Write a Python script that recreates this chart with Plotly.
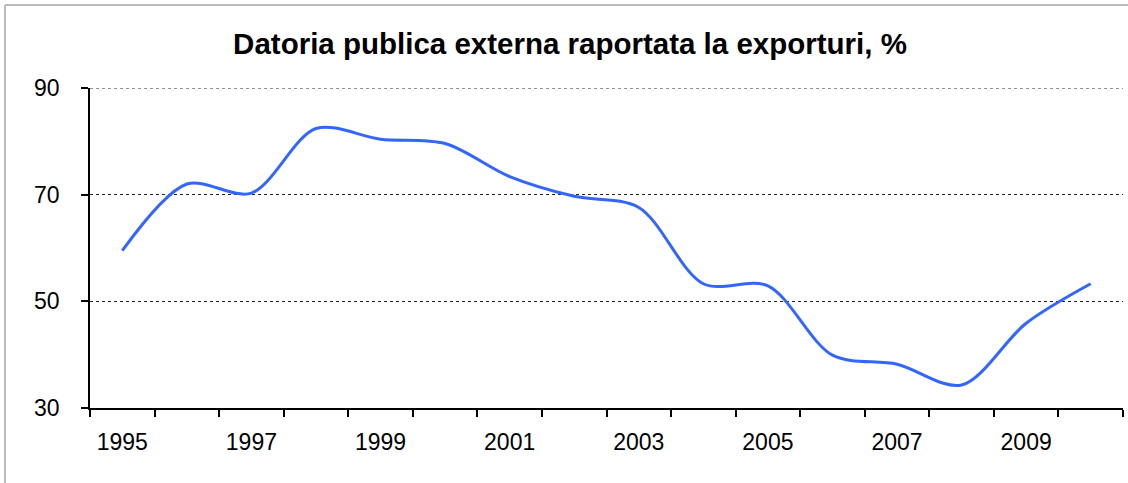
import plotly.graph_objects as go

years = [1995, 1996, 1997, 1998, 1999, 2000, 2001, 2002, 2003, 2004, 2005, 2006, 2007, 2008, 2009, 2010]
values = [59.5, 72.0, 70.3, 82.4, 80.4, 79.6, 73.4, 69.7, 67.6, 53.3, 52.9, 39.9, 38.2, 34.3, 45.9, 53.3]
label_years = [1995, 1997, 1999, 2001, 2003, 2005, 2007, 2009]
y_ticks = [30, 50, 70, 90]

W, H = 1128, 483
L, R, T, B = 90, 5, 88, 75
pw, ph = W - L - R, H - T - B

def px(x):
    return (x - L) / pw

def py(y):
    return (H - B - y) / ph

fig = go.Figure()
fig.add_trace(go.Scatter(
    x=years, y=values, mode="lines",
    line=dict(color="#3366FF", width=3, shape="spline", smoothing=0.9),
    hoverinfo="x+y", showlegend=False,
))

grid_dash = "3px,3px"

fig.update_layout(
    width=W, height=H,
    margin=dict(l=L, r=R, t=T, b=B),
    paper_bgcolor="white", plot_bgcolor="white",
    font=dict(family="Liberation Sans, Arial, sans-serif", color="black"),
    title=dict(text="<b>Datoria publica externa raportata la exporturi, %</b>",
               x=px(570), xref="paper", xanchor="center",
               y=1 - 44 / H, yanchor="middle",
               font=dict(size=29.5, color="black")),
    xaxis=dict(
        range=[1994.5, 2010.5], tickmode="array", tickvals=label_years,
        ticktext=[str(y) for y in label_years],
        ticks="", showgrid=False, zeroline=False,
        showline=True, linecolor="black", linewidth=1.5,
        tickfont=dict(size=23), ticklabelstandoff=13,
        minor=dict(tickmode="linear", tick0=1994.5, dtick=1, ticks="outside",
                   ticklen=7, tickcolor="black", tickwidth=1.5, showgrid=False),
        fixedrange=True,
    ),
    yaxis=dict(
        range=[30, 90], tickmode="array", tickvals=y_ticks,
        ticks="outside", ticklen=7, tickcolor="black", tickwidth=1.5,
        showgrid=True, gridcolor="#222222", gridwidth=1, griddash=grid_dash,
        zeroline=False, showline=True, linecolor="black", linewidth=1.5,
        tickfont=dict(size=23), ticklabelstandoff=17,
        fixedrange=True,
    ),
    shapes=[
        dict(type="line", xref="paper", yref="y",
             x0=0, x1=1, y0=y_ticks[-1], y1=y_ticks[-1], layer="below",
             line=dict(color="#222222", width=1, dash=grid_dash)),
        dict(type="line", xref="paper", yref="paper",
             x0=px(5), x1=px(W + 5), y0=py(5), y1=py(5),
             line=dict(color="#BBBBBB", width=2)),
        dict(type="line", xref="paper", yref="paper",
             x0=px(5), x1=px(5), y0=py(5), y1=py(H + 5),
             line=dict(color="#BBBBBB", width=2)),
    ],
)

fig.write_html("out.html", config={"displayModeBar": False},
               post_script="document.body.style.margin='0';document.body.style.padding='0';")
